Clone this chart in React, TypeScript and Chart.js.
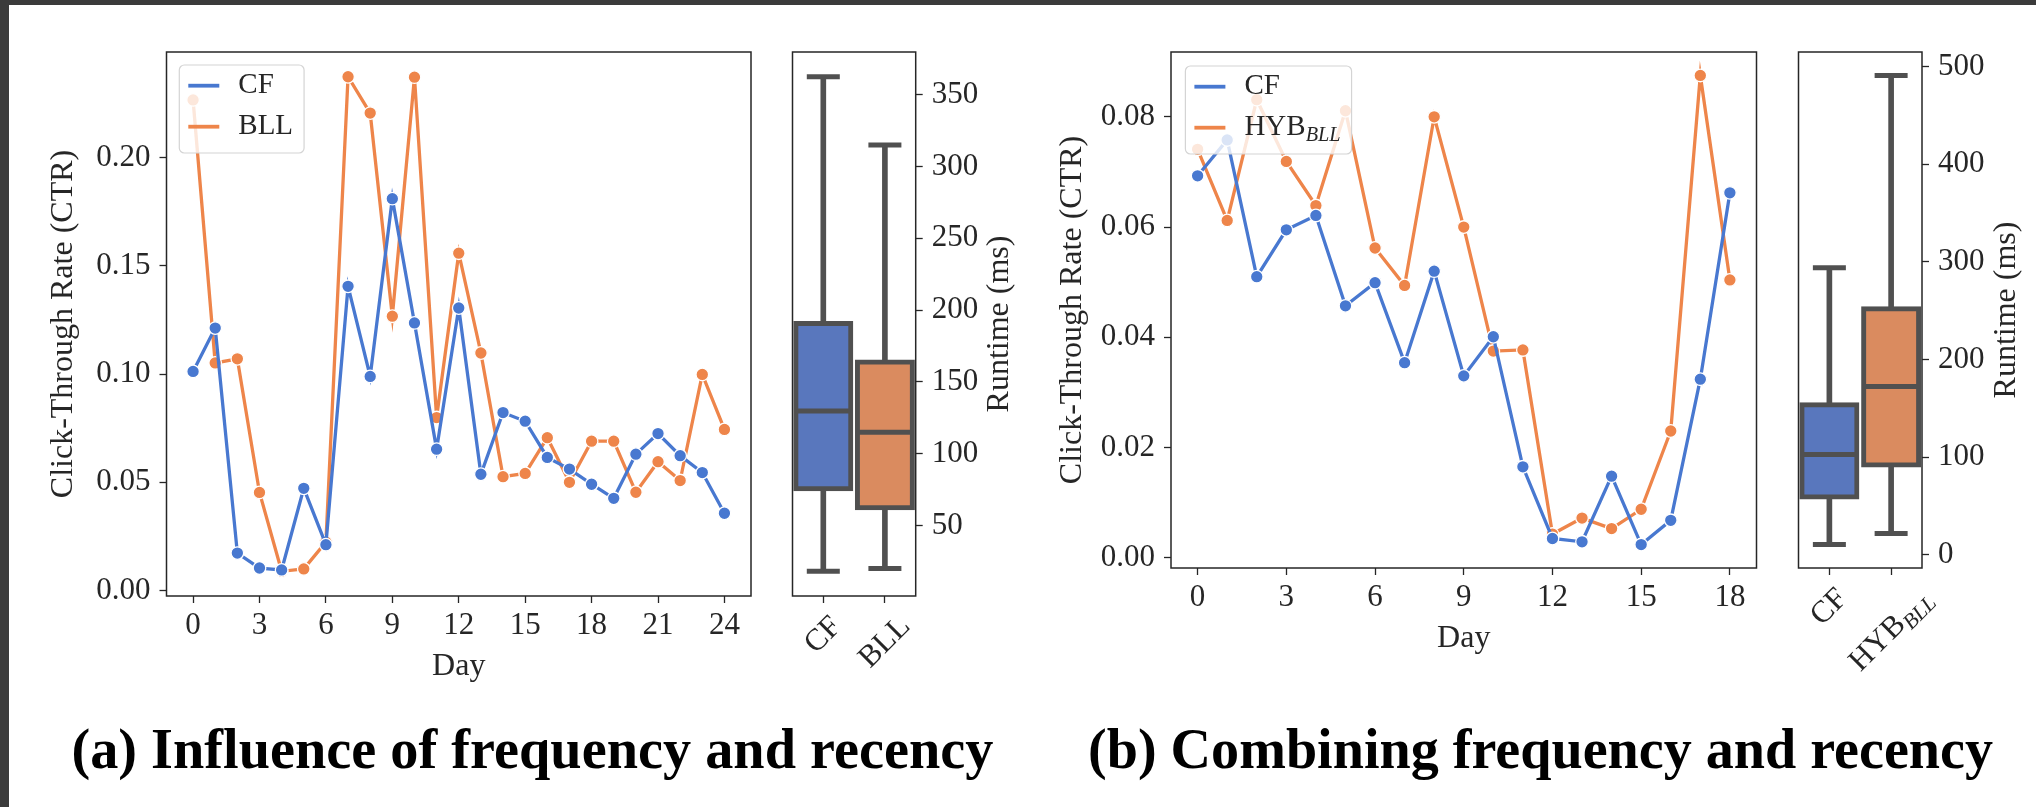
import React, { useEffect, useRef } from 'react';
import { Chart, registerables } from 'chart.js';

Chart.register(...registerables);

const FONT = "'Liberation Serif', 'Times New Roman', serif";
const TEXT = '#262626';
const GRAY = '#505050';
const BLUE = '#4878d0';
const ORANGE = '#ee854a';
const BOX_BLUE = '#5977bd';
const BOX_ORANGE = '#da8b5f';

// ---------- Panel (a): influence of frequency and recency ----------
const DAYS_A = [0, 1, 2, 3, 4, 5, 6, 7, 8, 9, 10, 11, 12, 13, 14, 15, 16, 17, 18, 19, 20, 21, 22, 23, 24];
const CF_A = [0.1012, 0.1212, 0.0173, 0.0104, 0.0095, 0.0472, 0.0212, 0.1405, 0.0989, 0.181, 0.1236, 0.0653, 0.1305, 0.0537, 0.0822, 0.0782, 0.0615, 0.0561, 0.0491, 0.0426, 0.063, 0.0725, 0.0623, 0.0545, 0.0357];
const BLL_A = [0.2266, 0.1051, 0.107, 0.0453, 0.0089, 0.01, 0.0224, 0.2373, 0.2205, 0.1267, 0.2371, 0.0799, 0.1558, 0.1097, 0.0526, 0.0541, 0.0706, 0.05, 0.069, 0.069, 0.0454, 0.0595, 0.0508, 0.0998, 0.0744];
const X_TICKS_A = [0, 3, 6, 9, 12, 15, 18, 21, 24];
const Y_TICKS_A = [0, 0.05, 0.1, 0.15, 0.2];

// ---------- Panel (b): combining frequency and recency ----------
const DAYS_B = [0, 1, 2, 3, 4, 5, 6, 7, 8, 9, 10, 11, 12, 13, 14, 15, 16, 17, 18];
const CF_B = [0.0693, 0.0758, 0.051, 0.0595, 0.0621, 0.0457, 0.0499, 0.0354, 0.052, 0.033, 0.0401, 0.0165, 0.0035, 0.0029, 0.0148, 0.0024, 0.0068, 0.0324, 0.0662];
const HYB_B = [0.0741, 0.0612, 0.0831, 0.0719, 0.0639, 0.0811, 0.0562, 0.0494, 0.08, 0.06, 0.0375, 0.0377, 0.0043, 0.0072, 0.0053, 0.0088, 0.023, 0.0875, 0.0504];
const X_TICKS_B = [0, 3, 6, 9, 12, 15, 18];
const Y_TICKS_B = [0, 0.02, 0.04, 0.06, 0.08];

// ---------- Runtime box plots ----------
const BOX_CATS_A = ['CF', 'BLL'];
const BOX_MIN_A = [18.1, 20.0];
const BOX_Q1_A = [75.6, 62.3];
const BOX_MED_A = [129.8, 114.9];
const BOX_Q3_A = [190.7, 163.8];
const BOX_MAX_A = [362.5, 315.0];
const RT_TICKS_A = [50, 100, 150, 200, 250, 300, 350];

const BOX_CATS_B = ['CF', 'HYB_BLL'];
const BOX_MIN_B = [10.5, 21.8];
const BOX_Q1_B = [59.2, 92.0];
const BOX_MED_B = [102.6, 172.3];
const BOX_Q3_B = [153.6, 252.0];
const BOX_MAX_B = [294.0, 490.9];
const RT_TICKS_B = [0, 100, 200, 300, 400, 500];

const FS_TICK = 31;
const FS_TITLE = 32;
const FS_LEGEND = 29;

function padRange(vals: number[]): [number, number] {
  const lo = Math.min(...vals);
  const hi = Math.max(...vals);
  const m = (hi - lo) * 0.05;
  return [lo - m, hi + m];
}

function splitLabel(s: string): [string, string] {
  const i = s.indexOf('_');
  return i < 0 ? [s, ''] : [s.slice(0, i), s.slice(i + 1)];
}

function richWidth(ctx: CanvasRenderingContext2D, s: string, size: number) {
  const [m, sub] = splitLabel(s);
  ctx.font = `${size}px ${FONT}`;
  let w = ctx.measureText(m).width;
  if (sub) {
    ctx.font = `italic ${size * 0.7}px ${FONT}`;
    w += ctx.measureText(sub).width;
  }
  return w;
}

function drawRich(ctx: CanvasRenderingContext2D, s: string, x: number, y: number, size: number) {
  const [m, sub] = splitLabel(s);
  ctx.textAlign = 'left';
  ctx.textBaseline = 'middle';
  ctx.font = `${size}px ${FONT}`;
  ctx.fillText(m, x, y);
  if (sub) {
    const w = ctx.measureText(m).width;
    ctx.font = `italic ${size * 0.7}px ${FONT}`;
    ctx.fillText(sub, x + w, y + size * 0.28);
  }
}

const framePlugin = {
  id: 'frame',
  afterDatasetsDraw(chart: any) {
    const { ctx, chartArea: a } = chart;
    ctx.save();
    ctx.strokeStyle = TEXT;
    ctx.lineWidth = 1.5;
    ctx.strokeRect(a.left, a.top, a.right - a.left, a.bottom - a.top);
    ctx.restore();
  },
};

function legendPlugin(offX: number, offY: number) {
  return {
    id: 'legendBox',
    afterDatasetsDraw(chart: any) {
      const { ctx, chartArea: a } = chart;
      const ds = chart.data.datasets;
      const handle = 31, padL = 9, gap = 19, padR = 11, rowH = 41, padT = 20.7, h = 88;
      let tw = 0;
      ds.forEach((d: any) => { tw = Math.max(tw, richWidth(ctx, d.label, FS_LEGEND)); });
      const x = a.left + offX;
      const y = a.top + offY;
      const w = padL + handle + gap + tw + padR;
      ctx.save();
      ctx.beginPath();
      ctx.roundRect(x, y, w, h, 5);
      ctx.fillStyle = 'rgba(255,255,255,0.8)';
      ctx.fill();
      ctx.strokeStyle = '#d4d4d4';
      ctx.lineWidth = 1.2;
      ctx.stroke();
      ds.forEach((d: any, i: number) => {
        const cy = y + padT + i * rowH;
        ctx.strokeStyle = d.borderColor;
        ctx.lineWidth = 3.8;
        ctx.beginPath();
        ctx.moveTo(x + padL, cy);
        ctx.lineTo(x + padL + handle, cy);
        ctx.stroke();
        ctx.fillStyle = TEXT;
        drawRich(ctx, d.label, x + padL + handle + gap, cy, FS_LEGEND);
      });
      ctx.restore();
    },
  };
}

function runtimeTitlePlugin(text: string) {
  return {
    id: 'rtTitle',
    afterDraw(chart: any) {
      const { ctx, chartArea: a } = chart;
      ctx.save();
      ctx.translate(a.right + 92.5, (a.top + a.bottom) / 2);
      ctx.rotate(-Math.PI / 2);
      ctx.font = `${FS_TITLE}px ${FONT}`;
      ctx.fillStyle = TEXT;
      ctx.textAlign = 'center';
      ctx.textBaseline = 'alphabetic';
      ctx.fillText(text, 0, 0);
      ctx.restore();
    },
  };
}

const rotatedLabelsPlugin = {
  id: 'rotLabels',
  afterDraw(chart: any) {
    const { ctx, chartArea: a } = chart;
    const xs = chart.scales.x;
    (chart.data.labels as string[]).forEach((lab, i) => {
      const w = richWidth(ctx, lab, FS_TICK);
      const bboxH = (w + FS_TICK) * Math.SQRT1_2;
      const cx = xs.getPixelForTick(i);
      const cy = a.bottom + 15 + bboxH / 2;
      ctx.save();
      ctx.translate(cx, cy);
      ctx.rotate(-Math.PI / 4);
      ctx.fillStyle = TEXT;
      drawRich(ctx, lab, -w / 2, 0, FS_TICK);
      ctx.restore();
    });
  },
};

const tickGrid = {
  display: true,
  drawOnChartArea: false,
  drawTicks: true,
  tickLength: 7,
  tickColor: TEXT,
  tickWidth: 1.3,
};

type Area = { l: number; t: number; r: number; b: number };

function lineConfig(p: {
  days: number[];
  series: { label: string; data: number[]; color: string }[];
  xTicks: number[];
  yTicks: number[];
  canvasW: number;
  canvasH: number;
  area: Area;
  yTitlePad: number;
  xTitlePad: number;
  legendOff: [number, number];
}): any {
  const [xmin, xmax] = padRange(p.days);
  const [ymin, ymax] = padRange(p.series.flatMap((s) => s.data));
  return {
    type: 'line',
    data: {
      datasets: p.series.map((s) => ({
        label: s.label,
        data: p.days.map((d, i) => ({ x: d, y: s.data[i] })),
        borderColor: s.color,
        backgroundColor: s.color,
        borderWidth: 3.3,
        pointRadius: 6.3,
        pointBackgroundColor: s.color,
        pointBorderColor: '#ffffff',
        pointBorderWidth: 1.3,
        tension: 0,
      })),
    },
    options: {
      responsive: false,
      animation: false,
      devicePixelRatio: 1,
      events: [],
      layout: { padding: { left: 0, top: p.area.t, right: p.canvasW - p.area.r, bottom: 0 } },
      plugins: { legend: { display: false }, tooltip: { enabled: false } },
      scales: {
        x: {
          type: 'linear',
          min: xmin,
          max: xmax,
          afterBuildTicks: (ax: any) => { ax.ticks = p.xTicks.map((v) => ({ value: v })); },
          afterFit: (ax: any) => { ax.height = p.canvasH - p.area.b; },
          ticks: { color: TEXT, font: { size: FS_TICK, family: FONT }, padding: 4, maxRotation: 0, callback: (v: any) => String(v) },
          grid: tickGrid,
          border: { display: false },
          title: { display: true, text: 'Day', color: TEXT, font: { size: FS_TITLE, family: FONT }, padding: { top: 0, bottom: p.xTitlePad } },
        },
        y: {
          type: 'linear',
          min: ymin,
          max: ymax,
          afterBuildTicks: (ax: any) => { ax.ticks = p.yTicks.map((v) => ({ value: v })); },
          afterFit: (ax: any) => { ax.width = p.area.l; },
          ticks: { color: TEXT, font: { size: FS_TICK, family: FONT }, padding: 9, callback: (v: any) => Number(v).toFixed(2) },
          grid: tickGrid,
          border: { display: false },
          title: { display: true, text: 'Click-Through Rate (CTR)', color: TEXT, font: { size: FS_TITLE, family: FONT }, padding: { top: p.yTitlePad, bottom: 0 } },
        },
      },
    },
    plugins: [framePlugin, legendPlugin(p.legendOff[0], p.legendOff[1])],
  };
}

function boxConfig(p: {
  cats: string[];
  min: number[];
  q1: number[];
  med: number[];
  q3: number[];
  max: number[];
  ticks: number[];
  canvasW: number;
  canvasH: number;
  area: Area;
}): any {
  const [ymin, ymax] = padRange([...p.min, ...p.max]);
  const capDs = (data: number[], radius: number) => ({
    type: 'line',
    data,
    showLine: false,
    pointStyle: 'line',
    pointRadius: radius,
    pointBorderWidth: 5,
    pointBorderColor: GRAY,
    pointBackgroundColor: GRAY,
    borderColor: GRAY,
    order: 1,
  });
  return {
    type: 'bar',
    data: {
      labels: p.cats,
      datasets: [
        {
          type: 'bar',
          data: p.cats.map((_, i) => [p.min[i], p.max[i]]),
          backgroundColor: GRAY,
          barThickness: 5,
          grouped: false,
          order: 3,
        },
        {
          type: 'bar',
          data: p.cats.map((_, i) => [p.q1[i], p.q3[i]]),
          backgroundColor: [BOX_BLUE, BOX_ORANGE],
          borderColor: GRAY,
          borderWidth: 5,
          borderSkipped: false,
          barThickness: 55,
          inflateAmount: 2.5,
          grouped: false,
          order: 2,
        },
        capDs(p.med, 27.5),
        capDs(p.max, 16.5),
        capDs(p.min, 16.5),
      ],
    },
    options: {
      responsive: false,
      animation: false,
      devicePixelRatio: 1,
      events: [],
      layout: { padding: { left: p.area.l, top: p.area.t, right: 0, bottom: 0 } },
      plugins: { legend: { display: false }, tooltip: { enabled: false } },
      scales: {
        x: {
          type: 'category',
          offset: true,
          afterFit: (ax: any) => { ax.height = p.canvasH - p.area.b; },
          ticks: { display: false },
          grid: { ...tickGrid, offset: false },
          border: { display: false },
        },
        y: {
          type: 'linear',
          position: 'right',
          min: ymin,
          max: ymax,
          afterBuildTicks: (ax: any) => { ax.ticks = p.ticks.map((v) => ({ value: v })); },
          afterFit: (ax: any) => { ax.width = p.canvasW - p.area.r; },
          ticks: { color: TEXT, font: { size: FS_TICK, family: FONT }, padding: 9, callback: (v: any) => String(v) },
          grid: tickGrid,
          border: { display: false },
        },
      },
    },
    plugins: [framePlugin, rotatedLabelsPlugin, runtimeTitlePlugin('Runtime (ms)')],
  };
}

function ChartCanvas(props: { left: number; top: number; width: number; height: number; config: () => any }) {
  const ref = useRef<HTMLCanvasElement>(null);
  useEffect(() => {
    const chart = new Chart(ref.current as HTMLCanvasElement, props.config());
    return () => chart.destroy();
  }, []);
  return (
    <canvas
      ref={ref}
      width={props.width}
      height={props.height}
      style={{ position: 'absolute', left: props.left, top: props.top, width: props.width, height: props.height }}
    />
  );
}

export default function App() {
  return (
    <div style={{ position: 'absolute', left: 0, top: 0, width: 2036, height: 807, background: '#3b3b3b', overflow: 'hidden' }}>
      <div style={{ position: 'absolute', left: 9, top: 5, right: 0, bottom: 0, background: '#ffffff' }} />
      <ChartCanvas
        left={0}
        top={0}
        width={760}
        height={700}
        config={() =>
          lineConfig({
            days: DAYS_A,
            series: [
              { label: 'CF', data: CF_A, color: BLUE },
              { label: 'BLL', data: BLL_A, color: ORANGE },
            ],
            xTicks: X_TICKS_A,
            yTicks: Y_TICKS_A,
            canvasW: 760,
            canvasH: 700,
            area: { l: 166.5, t: 52, r: 751, b: 596 },
            yTitlePad: 44.5,
            xTitlePad: 14,
            legendOff: [12.8, 13],
          })
        }
      />
      <ChartCanvas
        left={760}
        top={0}
        width={280}
        height={700}
        config={() =>
          boxConfig({
            cats: BOX_CATS_A,
            min: BOX_MIN_A,
            q1: BOX_Q1_A,
            med: BOX_MED_A,
            q3: BOX_Q3_A,
            max: BOX_MAX_A,
            ticks: RT_TICKS_A,
            canvasW: 280,
            canvasH: 700,
            area: { l: 10, t: 52, r: 155.7, b: 596 },
          })
        }
      />
      <ChartCanvas
        left={1040}
        top={0}
        width={726}
        height={700}
        config={() =>
          lineConfig({
            days: DAYS_B,
            series: [
              { label: 'CF', data: CF_B, color: BLUE },
              { label: 'HYB_BLL', data: HYB_B, color: ORANGE },
            ],
            xTicks: X_TICKS_B,
            yTicks: Y_TICKS_B,
            canvasW: 726,
            canvasH: 700,
            area: { l: 131, t: 52, r: 716.5, b: 568 },
            yTitlePad: 13.5,
            xTitlePad: 42,
            legendOff: [14.4, 14],
          })
        }
      />
      <ChartCanvas
        left={1766}
        top={0}
        width={270}
        height={700}
        config={() =>
          boxConfig({
            cats: BOX_CATS_B,
            min: BOX_MIN_B,
            q1: BOX_Q1_B,
            med: BOX_MED_B,
            q3: BOX_Q3_B,
            max: BOX_MAX_B,
            ticks: RT_TICKS_B,
            canvasW: 270,
            canvasH: 700,
            area: { l: 10, t: 52, r: 156, b: 568 },
          })
        }
      />
      <svg width={2036} height={807} style={{ position: 'absolute', left: 0, top: 0, pointerEvents: 'none' }}>
        <text x={71.4} y={768} fontFamily={FONT} fontWeight="bold" fontSize={56} fill="#000" textLength={922} lengthAdjust="spacingAndGlyphs">
          (a) Influence of frequency and recency
        </text>
        <text x={1088} y={768} fontFamily={FONT} fontWeight="bold" fontSize={56} fill="#000" textLength={905} lengthAdjust="spacingAndGlyphs">
          (b) Combining frequency and recency
        </text>
      </svg>
    </div>
  );
}
